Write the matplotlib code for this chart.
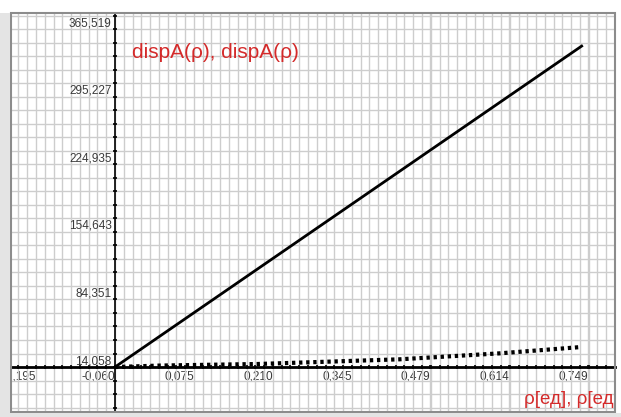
import numpy as np
import matplotlib
matplotlib.use('Agg')
import matplotlib.pyplot as plt
from matplotlib.ticker import FixedLocator, AutoMinorLocator
from matplotlib.patches import Rectangle

# data
rho = [-0.060, 0.017, 0.183, 0.427, 0.598, 0.738]
disp_solid = [14.058, 74.5, 150.0, 260.5, 337.0, 347.8]
disp_dotted = [14.058, 15.6, 17.2, 22.1, 28.3, 34.9]
x_ticks = [-0.195, -0.060, 0.075, 0.210, 0.345, 0.479, 0.614, 0.749]
y_ticks = [14.058, 84.351, 154.643, 224.935, 295.227, 365.519]

font = 'Liberation Sans'

fig = plt.figure(figsize=(6.21, 4.17), dpi=100)
W, H = 621, 417
ax = fig.add_axes([11 / W, 1 - 412 / H, (615 - 11) / W, (412 - 13) / H])

# solid line straight from first to last point
ax.plot([rho[0], rho[-1]], [disp_solid[0], disp_solid[-1]], color='black', lw=2, zorder=4)
ax.plot(rho, disp_dotted, color='black', lw=3, ls=(0, (0.8, 0.9)), zorder=4)

ax.set_xlim(-0.2378, 0.795)
ax.set_ylim(-32.7, 382.2)

ax.spines['left'].set_position(('data', -0.060))
ax.spines['bottom'].set_position(('data', 14.058))
ax.spines['left'].set_linewidth(1.2)
ax.spines['bottom'].set_linewidth(2)
ax.spines['top'].set_visible(False)
ax.spines['right'].set_visible(False)
for s in ['left', 'bottom']:
    ax.spines[s].set_zorder(3)

ax.xaxis.set_major_locator(FixedLocator(x_ticks))
ax.yaxis.set_major_locator(FixedLocator(y_ticks))
ax.set_xticklabels([('%.3f' % v).replace('.', ',') for v in x_ticks])
ax.set_yticklabels([('%.3f' % v).replace('.', ',') for v in y_ticks])
ax.xaxis.set_minor_locator(AutoMinorLocator(9))
ax.yaxis.set_minor_locator(AutoMinorLocator(5))

ax.tick_params(which='both', direction='inout', length=3, width=1.2, color='black')
ax.tick_params(axis='x', pad=1)
ax.tick_params(axis='y', pad=1)
for lbl in ax.get_xticklabels():
    lbl.set_ha('right')
    lbl.set_fontfamily(font)
    lbl.set_fontsize(8.5)
    lbl.set_color('#3a3a3a')
for lbl in ax.get_yticklabels():
    lbl.set_va('bottom')
    lbl.set_fontfamily(font)
    lbl.set_fontsize(8.5)
    lbl.set_color('#3a3a3a')

ax.grid(True, which='both', color='#cdcdcd', lw=1.0)
ax.set_axisbelow(True)

ax.text((132 - 11) / 604, 0.9, 'dispA(ρ), dispA(ρ)', transform=ax.transAxes,
        color='#d42a2a', fontsize=15, family=font, va='center', ha='left')
ax.text((524 - 11) / 604, 0.01, 'ρ[ед], ρ[ед', transform=ax.transAxes,
        color='#d42a2a', fontsize=13.5, family=font, va='bottom', ha='left')

# frame
ax.add_patch(Rectangle((0, 0), 1, 1, transform=ax.transAxes, fill=False,
                       edgecolor='#8c8c8c', lw=1.5, zorder=5, clip_on=False))
fig.patches.append(Rectangle((0, 0), 10 / W, 1 - 13 / H, transform=fig.transFigure,
                             facecolor='#e4e4e4', edgecolor='none', zorder=10))
fig.patches.append(Rectangle((0, 0), 1, 4 / H, transform=fig.transFigure,
                             facecolor='#e4e4e4', edgecolor='none', zorder=10))

fig.savefig('out.png', dpi=100)
